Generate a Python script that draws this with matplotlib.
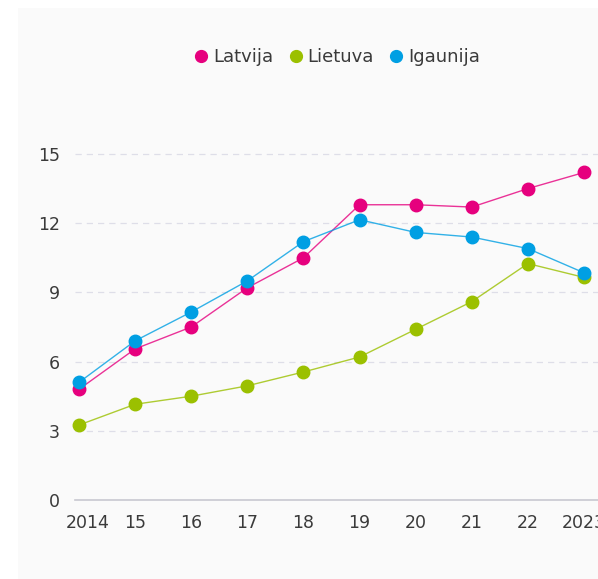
import matplotlib
matplotlib.use("Agg")
import matplotlib.pyplot as plt
import matplotlib.transforms as mtransforms
from matplotlib.patches import Rectangle
from matplotlib.lines import Line2D

years = [2014, 2015, 2016, 2017, 2018, 2019, 2020, 2021, 2022, 2023]
year_labels = ["2014", "15", "16", "17", "18", "19", "20", "21", "22", "2023"]
latvija = [4.8, 6.55, 7.5, 9.2, 10.5, 12.8, 12.8, 12.7, 13.5, 14.2]
lietuva = [3.25, 4.15, 4.5, 4.95, 5.55, 6.2, 7.4, 8.6, 10.25, 9.65]
igaunija = [5.1, 6.9, 8.15, 9.5, 11.2, 12.15, 11.6, 11.4, 10.9, 9.85]
series = [("Latvija", latvija, "#e6007e"),
          ("Lietuva", lietuva, "#9bc000"),
          ("Igaunija", igaunija, "#009fe3")]
yticks = [0, 3, 6, 9, 12, 15]

plt.rcParams['font.family'] = ['DejaVu Sans']
W, H = 598, 579
fig = plt.figure(figsize=(W/100, H/100), dpi=100, facecolor="white")
fig.patches.append(Rectangle((18/W, 0), 1, 1 - 8/H, transform=fig.transFigure,
                             facecolor="#fafafa", edgecolor="none", zorder=-10))

ppu = 346/15.0
ppy = (584-79)/9.0
x0, x1 = 2013.93, 2023.4
y0, y1 = 0, 15.5
left = (79 - (2014-x0)*ppy)/W
width = (x1-x0)*ppy/W
bottom = (H-500)/H
height = (y1-y0)*ppu/H
ax = fig.add_axes([left, bottom, width, height])
ax.set_facecolor("none")

for name, vals, col in series:
    ax.plot(years, vals, color=col, lw=1.0, alpha=0.8, zorder=2)
    ax.plot(years, vals, ls="none", marker="o", ms=9, color=col, zorder=3, clip_on=False)

ax.set_xlim(x0, x1)
ax.set_ylim(y0, y1)
ax.set_yticks(yticks)
ax.set_xticks(years)
ax.set_xticklabels(year_labels)
for s in ["top", "right", "left"]:
    ax.spines[s].set_visible(False)
ax.spines["bottom"].set_color("#c8c8d0")
ax.spines["bottom"].set_linewidth(1.2)
ax.tick_params(axis="both", length=0, labelsize=12.5, colors="#3a3a3a")
ax.tick_params(axis="y", pad=11)
ax.tick_params(axis="x", pad=10)
for t in yticks[1:]:
    ax.axhline(t, color="#dedee8", lw=0.9, ls=(0, (5, 4)), zorder=1)

first = ax.get_xticklabels()[0]
first.set_transform(first.get_transform() + mtransforms.ScaledTranslation(9/100, 0, fig.dpi_scale_trans))

handles = [Line2D([], [], ls="none", marker="o", ms=8.5, color=c) for _, _, c in series]
fig.legend(handles, [n for n, _, _ in series], loc="center", ncol=3,
           bbox_to_anchor=(336/W, 1-57/H), frameon=False, fontsize=13,
           handletextpad=0.15, columnspacing=0.75, handlelength=1.0,
           labelcolor="#3a3a3a")

fig.savefig("out.png", dpi=100, facecolor="white")
